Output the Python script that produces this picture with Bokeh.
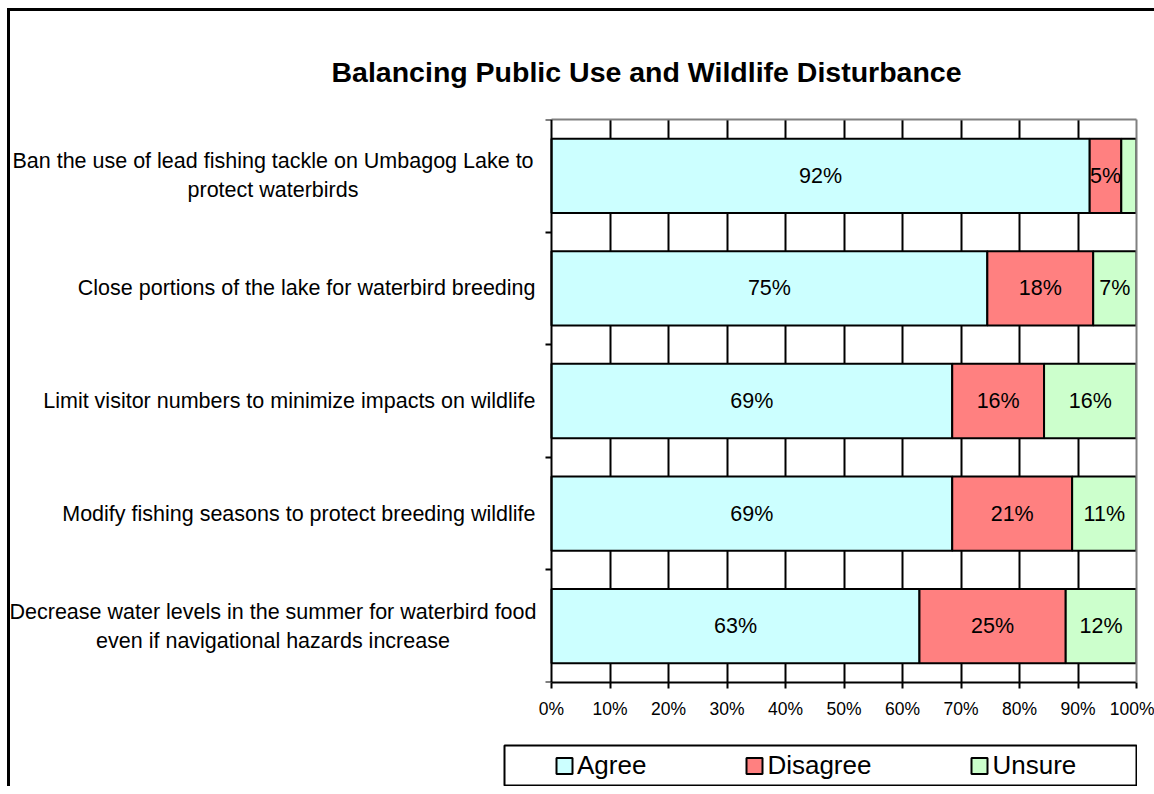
import math
from bokeh.plotting import figure
from bokeh.models import (Range1d, FixedTicker, ColumnDataSource, LinearAxis,
                          Legend, LegendItem, Spacer)
from bokeh.layouts import column, row
from bokeh.core.properties import value
from bokeh.embed import file_html
from bokeh.resources import INLINE

# ---------------- data ----------------
title = "Balancing Public Use and Wildlife Disturbance"
categories = [
    "Ban the use of lead fishing tackle on Umbagog Lake to\nprotect waterbirds",
    "Close portions of the lake for waterbird breeding",
    "Limit visitor numbers to minimize impacts on wildlife",
    "Modify fishing seasons to protect breeding wildlife",
    "Decrease water levels in the summer for waterbird food\neven if navigational hazards increase",
]
series = ["Agree", "Disagree", "Unsure"]
agree = [92.0, 74.5, 68.5, 68.5, 62.9]
disagree = [5.4, 18.1, 15.7, 20.5, 25.0]
unsure = [2.6, 7.4, 15.8, 11.0, 12.1]
x_ticks = [0, 10, 20, 30, 40, 50, 60, 70, 80, 90, 100]
x_tick_labels = ["0%", "10%", "20%", "30%", "40%", "50%", "60%", "70%", "80%", "90%", "100%"]

# ---------------- style / layout ----------------
FONT = "Liberation Sans"
colors = ["#CCFFFF", "#FF8080", "#CCFFCC"]
n = len(categories)

W, H = 1154, 744
FRAME_L, FRAME_R, FRAME_T, FRAME_B = 10, 1136, 119, 682
AXIS_X = 551                      # pixel position of the 0% axis
PX_PER_UNIT = (FRAME_R - AXIS_X) / (x_ticks[-1] - x_ticks[0])
x_start = x_ticks[0] - (AXIS_X - FRAME_L) / PX_PER_UNIT
GAP = 16                          # gap between category labels and axis

p = figure(width=W, height=H, output_backend="svg", toolbar_location=None,
           x_range=Range1d(x_start, x_ticks[-1]), y_range=Range1d(n - 0.5, -0.5),
           min_border_left=FRAME_L, min_border_right=W - FRAME_R,
           min_border_top=FRAME_T, min_border_bottom=H - FRAME_B, title=title)
p.border_fill_color = None
p.background_fill_color = None
p.outline_line_color = None

# title
p.title.align = "left"
p.title.offset = 321
p.title.text_font = FONT
p.title.text_font_size = "28.5px"
p.title.text_font_style = "bold"
p.title.text_color = "black"
p.title.standoff = 64

src = ColumnDataSource(dict(y=list(range(n)), Agree=agree, Disagree=disagree, Unsure=unsure))
renderers = p.hbar_stack(series, y="y", height=0.66, fill_color=colors,
                         line_color="black", line_width=2, source=src)

# segment value labels
lx, ly, lt = [], [], []
for i in range(n):
    left = 0.0
    for vals in (agree, disagree, unsure):
        v = vals[i]
        if v >= 4:
            lx.append(left + v / 2)
            ly.append(i)
            lt.append(f"{math.floor(v + 0.5)}%")
        left += v
p.text(x="x", y="y", text="t", source=ColumnDataSource(dict(x=lx, y=ly, t=lt)),
       text_align="center", text_baseline="middle", text_font=value(FONT),
       text_font_size="21.5px", text_color="black")

# category labels
single = [(i, c) for i, c in enumerate(categories) if "\n" not in c]
wrapped = [(i, c) for i, c in enumerate(categories) if "\n" in c]
p.text(x=[x_ticks[0]] * len(single), y=[i for i, _ in single], text=[c for _, c in single],
       x_offset=-GAP, text_align="right", text_baseline="middle",
       text_font=value(FONT), text_font_size="21.5px", text_color="black")
x_wrap = (x_start + (x_ticks[0] - GAP / PX_PER_UNIT)) / 2
p.text(x=[x_wrap] * len(wrapped), y=[i for i, _ in wrapped], text=[c for _, c in wrapped],
       text_align="center", text_baseline="middle", text_line_height=1.22,
       text_font=value(FONT), text_font_size="21.5px", text_color="black")

# grid
p.xgrid.ticker = FixedTicker(ticks=x_ticks[1:-1])
p.xgrid.grid_line_color = "black"
p.xgrid.grid_line_width = 2
p.ygrid.grid_line_color = None

# x axis
xa = p.xaxis[0]
xa.bounds = (x_ticks[0], x_ticks[-1])
xa.ticker = FixedTicker(ticks=x_ticks)
xa.major_label_overrides = {t: s for t, s in zip(x_ticks, x_tick_labels)}
xa.major_label_text_font = FONT
xa.major_label_text_font_size = "17.5px"
xa.major_label_text_color = "black"
xa.axis_line_width = 2
xa.axis_line_color = "black"
xa.major_tick_line_width = 2
xa.major_tick_line_color = "black"
xa.major_tick_out = 6
xa.major_tick_in = 0
xa.minor_tick_line_color = None
xa.major_label_standoff = 10

# y axis at the 0% position, ticks on category boundaries
ya = p.yaxis[0]
ya.fixed_location = x_ticks[0]
ya.ticker = FixedTicker(ticks=[i - 0.5 for i in range(n + 1)])
ya.major_label_text_font_size = "0px"
ya.major_label_standoff = 0
ya.axis_line_width = 2
ya.axis_line_color = "black"
ya.major_tick_line_width = 2
ya.major_tick_line_color = "black"
ya.major_tick_out = 6
ya.major_tick_in = 0
ya.minor_tick_line_color = None

# grey plot-area border (top and right)
for side, bounds in (("above", (x_ticks[0], x_ticks[-1])), ("right", "auto")):
    ax = LinearAxis(bounds=bounds, ticker=FixedTicker(ticks=[]),
                    axis_line_color="#808080", axis_line_width=2,
                    major_tick_line_color=None, minor_tick_line_color=None,
                    major_label_text_font_size="0px", major_label_standoff=0)
    p.add_layout(ax, side)

# outer chart border (left and top edges; the rest lies outside the window)
p.styles = {"background": ("linear-gradient(#000, #000) 7px 8px / 3px 100% no-repeat, "
                           "linear-gradient(#000, #000) 7px 8px / 100% 3px no-repeat, #fff")}

# ---------------- legend box ----------------
p2 = figure(width=634, height=42, output_backend="svg", toolbar_location=None,
            x_range=Range1d(0, 1), y_range=Range1d(0, 1),
            min_border_left=1, min_border_right=1, min_border_top=1, min_border_bottom=1,
            x_axis_location=None, y_axis_location=None, title=None)
p2.grid.visible = False
p2.border_fill_color = None
p2.background_fill_color = "white"
p2.outline_line_color = "black"
p2.outline_line_width = 2
legend_rs = p2.hbar_stack(series, y="y", height=0.66, fill_color=colors,
                          line_color="black", line_width=2, source=src, visible=False)
legend = Legend(items=[LegendItem(label=s, renderers=[r]) for s, r in zip(series, legend_rs)],
                orientation="horizontal", location="left", margin=50, padding=0,
                spacing=98, label_standoff=3, glyph_width=20, glyph_height=20,
                border_line_color=None, background_fill_alpha=0,
                inactive_fill_alpha=0,
                label_text_font=FONT, label_text_font_size="26px", label_text_color="black")
p2.add_layout(legend)

left_strip = Spacer(width=503, height=42,
                    styles={"background": "linear-gradient(#000, #000) 7px 0 / 3px 100% no-repeat"})
layout = column(p, row(left_strip, p2))

html = file_html(layout, INLINE)
html = html.replace("</head>", "<style>html, body { overflow: hidden; }</style></head>", 1)
open("out.html", "w").write(html)
